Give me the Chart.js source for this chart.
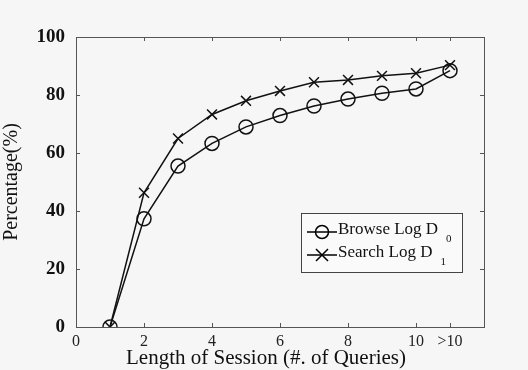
<!DOCTYPE html>
<html><head><meta charset="utf-8">
<script src="https://cdn.jsdelivr.net/npm/chart.js@4/dist/chart.umd.min.js"></script>
<style>html,body{margin:0;padding:0;background:#f6f6f6;}#wrap{width:528px;height:370px;}</style>
</head><body><div id="wrap"><canvas id="c" width="528" height="370"></canvas></div>
<script>
const sessionLengths = [1,2,3,4,5,6,7,8,9,10,11];
const browseLog = [0,37.3,55.5,63.3,69,72.9,76.2,78.6,80.6,82.1,88.4];
const searchLog = [0,46.3,65,73.3,78,81.4,84.4,85.2,86.6,87.5,90.3];
const xTickValues = [0,2,4,6,8,10,11];
const xTickLabels = ['0','2','4','6','8','10','>10'];
const yTickValues = [0,20,40,60,80,100];
const seriesNames = ['Browse Log D', 'Search Log D'];
const seriesSubs = ['0','1'];
const xTitle = 'Length of Session (#. of Queries)';

const serif = "'Liberation Serif', 'DejaVu Serif', serif";

const frameTicks = {
  id:'frameTicks',
  afterDraw(chart){
    const {ctx, chartArea:a, scales:{x,y}} = chart;
    ctx.save();
    ctx.strokeStyle='#555'; ctx.lineWidth=1;
    ctx.strokeRect(a.left+0.5, a.top+0.5, a.right-a.left, a.bottom-a.top);
    const L=4;
    ctx.beginPath();
    xTickValues.forEach(v=>{const px=Math.round(x.getPixelForValue(v))+0.5;
      ctx.moveTo(px,a.bottom); ctx.lineTo(px,a.bottom-L);
      ctx.moveTo(px,a.top); ctx.lineTo(px,a.top+L);});
    yTickValues.forEach(v=>{const py=Math.round(y.getPixelForValue(v))+0.5;
      ctx.moveTo(a.left,py); ctx.lineTo(a.left+L,py);
      ctx.moveTo(a.right,py); ctx.lineTo(a.right-L,py);});
    ctx.stroke();
    // x title
    ctx.fillStyle='#111'; ctx.font='21px '+serif; ctx.textAlign='center'; ctx.textBaseline='middle';
    ctx.fillText(xTitle, 266, 358);
    // legend
    const bx=301, by=213, bw=161, bh=59;
    ctx.fillStyle='#fafafa'; ctx.fillRect(bx,by,bw,bh);
    ctx.strokeStyle='#444'; ctx.strokeRect(bx+0.5,by+0.5,bw,bh);
    ctx.strokeStyle='#000'; ctx.lineWidth=1.5;
    const rows=[by+19, by+42];
    rows.forEach((ry,i)=>{
      ctx.beginPath(); ctx.moveTo(bx+6,ry); ctx.lineTo(bx+36,ry); ctx.stroke();
      ctx.beginPath();
      if(i===0){ ctx.arc(bx+21,ry,6.5,0,Math.PI*2); }
      else { const r=6; ctx.moveTo(bx+21-r,ry-r); ctx.lineTo(bx+21+r,ry+r); ctx.moveTo(bx+21-r,ry+r); ctx.lineTo(bx+21+r,ry-r); }
      ctx.stroke();
      ctx.fillStyle='#111'; ctx.font='17px '+serif; ctx.textBaseline='middle'; ctx.textAlign='left';
      ctx.fillText(seriesNames[i], bx+37, ry-2);
      const w=ctx.measureText(seriesNames[i]).width;
      ctx.font='11px '+serif;
      ctx.fillText(seriesSubs[i], bx+37+w+8, ry+7);
    });
    ctx.restore();
  }
};

new Chart(document.getElementById('c'), {
  type:'line',
  data:{
    datasets:[
      {label:seriesNames[0], data:sessionLengths.map((v,i)=>({x:v,y:browseLog[i]})),
       borderColor:'#111', borderWidth:1.5, pointStyle:'circle', pointRadius:7,
       pointBorderColor:'#111', pointBackgroundColor:'rgba(0,0,0,0)', pointBorderWidth:1.5, tension:0},
      {label:seriesNames[1], data:sessionLengths.map((v,i)=>({x:v,y:searchLog[i]})),
       borderColor:'#111', borderWidth:1.5, pointStyle:'crossRot', pointRadius:7,
       pointBorderColor:'#111', pointBorderWidth:1.5, tension:0}
    ]
  },
  options:{
    responsive:false, animation:false,
    layout:{padding:{left:0,top:37,right:44,bottom:0}},
    plugins:{legend:{display:false}, tooltip:{enabled:false}},
    scales:{
      x:{type:'linear', min:0, max:12,
        afterBuildTicks(s){ s.ticks = xTickValues.map(v=>({value:v})); },
        afterFit(s){ s.height=43; },
        grid:{display:false}, border:{display:false},
        ticks:{autoSkip:false, maxRotation:0, padding:-3, color:'#222', font:{family:serif,size:16},
          callback:(v)=>{const i=xTickValues.indexOf(v); return i>=0?xTickLabels[i]:'';}},
        title:{display:false}
      },
      y:{min:0,max:100,
        afterBuildTicks(s){ s.ticks = yTickValues.map(v=>({value:v})); },
        afterFit(s){ s.width=76; },
        grid:{display:false}, border:{display:false},
        ticks:{padding:3, color:'#111', font:{family:serif,size:19,weight:'bold'}},
        title:{display:true, text:'Percentage(%)', color:'#111', font:{family:serif,size:20}, padding:{top:0,bottom:0}}
      }
    }
  },
  plugins:[frameTicks]
});
</script></body></html>
